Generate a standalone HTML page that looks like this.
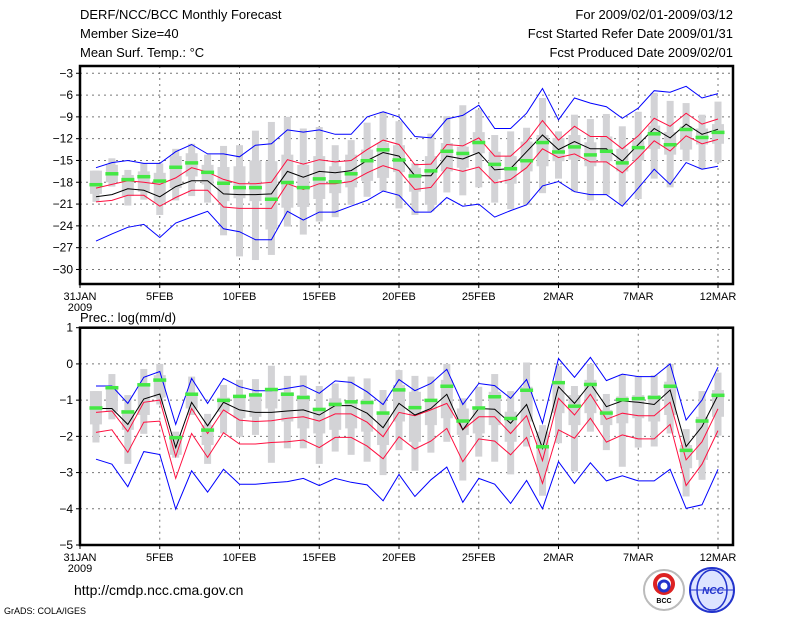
<!DOCTYPE html>
<html><head><meta charset="utf-8"><style>
body{margin:0;background:#fff;}
svg{display:block;font-family:"Liberation Sans",sans-serif;}
</style></head><body>
<svg id="chart" width="800" height="618" viewBox="0 0 800 618" xmlns="http://www.w3.org/2000/svg">
<rect width="800" height="618" fill="#fff"/>
<g font-size="13" fill="#000">
<text x="80" y="19">DERF/NCC/BCC Monthly Forecast</text>
<text x="80" y="38">Member Size=40</text>
<text x="80" y="57">Mean Surf. Temp.: °C</text>
<text x="733" y="19" text-anchor="end">For 2009/02/01-2009/03/12</text>
<text x="733" y="38" text-anchor="end">Fcst Started Refer Date 2009/01/31</text>
<text x="733" y="57" text-anchor="end">Fcst Produced Date 2009/02/01</text>
<text x="80" y="322">Prec.: log(mm/d)</text>
<text x="74" y="595" font-size="14">http://cmdp.ncc.cma.gov.cn</text>
<text x="4" y="614" font-size="9">GrADS: COLA/IGES</text>
</g>
<g>
<circle cx="664" cy="590" r="20" fill="#fff" stroke="#bbb" stroke-width="2"/>
<circle cx="664" cy="584" r="9" fill="none" stroke="#d22" stroke-width="4"/>
<circle cx="664" cy="586" r="5" fill="none" stroke="#23c" stroke-width="3"/>
<text x="664" y="603" font-size="7" text-anchor="middle" font-weight="bold">BCC</text>
</g>
<g>
<circle cx="712" cy="590" r="22" fill="#dde4ff" stroke="#23c" stroke-width="2"/>
<ellipse cx="712" cy="590" rx="15" ry="20" fill="none" stroke="#23c" stroke-width="1.5"/>
<line x1="690" y1="590" x2="734" y2="590" stroke="#23c"/>
<text x="713" y="594" font-size="10" text-anchor="middle" fill="#23c" font-weight="bold" font-style="italic">NCC</text>
</g>
<g id="top"></g>
<g id="bot"></g>
</svg>
<script>
// ===== Temperature panel data (days 1..40 = Feb 1 .. Mar 12) =====
const tMax = [-16.0,-15.3,-15.0,-15.4,-15.4,-13.8,-12.8,-14.1,-14.1,-14.5,-12.9,-12.7,-10.8,-11.1,-10.8,-11.4,-11.4,-9.0,-8.3,-9.0,-11.7,-11.9,-9.3,-8.8,-7.4,-10.6,-10.6,-8.5,-5.1,-9.4,-6.4,-7.1,-7.6,-9.2,-7.8,-5.4,-5.6,-4.8,-6.4,-5.8];
const tMin = [-26.1,-25.1,-24.2,-23.8,-25.6,-23.6,-22.8,-22.0,-24.4,-24.8,-25.9,-25.9,-22.0,-23.2,-22.1,-22.1,-21.3,-20.5,-19.2,-19.8,-22.1,-22.1,-20.1,-21.3,-21.0,-22.8,-21.9,-21.1,-18.5,-17.9,-19.3,-19.7,-19.7,-21.3,-18.8,-16.2,-18.3,-15.3,-16.2,-15.8];
const tHi = [-18.8,-18.3,-17.8,-18.0,-18.3,-17.4,-16.0,-16.6,-17.6,-18.2,-18.2,-18.0,-14.9,-15.5,-14.9,-15.2,-15.0,-13.5,-12.2,-12.8,-15.6,-15.5,-12.8,-13.0,-11.9,-14.4,-14.4,-12.4,-9.5,-12.2,-10.3,-11.7,-11.7,-13.4,-11.6,-9.2,-10.3,-8.5,-10.0,-9.3];
const tMean = [-20.0,-19.7,-18.9,-19.1,-20.0,-18.6,-17.8,-17.8,-19.6,-19.7,-19.7,-19.6,-16.5,-17.3,-16.5,-16.7,-16.4,-15.0,-13.9,-14.4,-17.1,-17.1,-14.4,-14.8,-13.9,-16.3,-16.1,-13.8,-11.5,-13.5,-12.4,-13.4,-13.4,-15.1,-12.8,-10.6,-11.9,-10.0,-11.4,-10.7];
const tLo = [-20.7,-20.5,-19.8,-19.8,-21.3,-20.1,-19.1,-19.1,-21.4,-21.6,-21.6,-21.6,-18.2,-19.0,-18.2,-18.2,-17.9,-16.7,-15.7,-16.4,-19.0,-18.7,-16.0,-16.5,-15.9,-18.1,-17.6,-16.0,-13.4,-14.6,-14.1,-15.2,-15.2,-16.7,-14.6,-12.3,-13.7,-11.6,-12.7,-12.1];
const tObs = [-18.3,-16.8,-17.6,-17.2,-17.8,-15.9,-15.3,-16.6,-18.1,-18.7,-18.7,-20.3,-18.0,-18.7,-17.5,-17.9,-16.8,-15.0,-13.5,-14.9,-17.1,-16.4,-13.7,-14.0,-12.5,-15.5,-16.1,-15.0,-12.5,-13.8,-13.1,-14.2,-13.7,-15.3,-13.2,-11.3,-12.8,-10.7,-11.8,-11.1];
const tWhiskTop = [-16.4,-14.7,-16.3,-15.4,-15.4,-13.4,-12.7,-14.2,-13.0,-12.9,-10.9,-9.7,-9.0,-10.6,-10.4,-12.9,-12.2,-9.8,-8.3,-9.6,-15.4,-11.3,-8.9,-7.4,-8.0,-11.5,-11.0,-10.5,-6.4,-11.0,-8.7,-9.3,-8.6,-10.3,-8.3,-5.7,-6.8,-7.1,-8.7,-6.9];
const tWhiskBot = [-20.7,-18.6,-21.2,-20.4,-22.5,-20.5,-19.9,-20.8,-25.3,-28.2,-28.7,-28.0,-24.1,-25.2,-23.4,-22.8,-21.1,-20.0,-19.2,-21.6,-22.5,-22.0,-19.4,-19.8,-18.7,-20.8,-21.7,-21.1,-19.5,-17.5,-19.3,-20.5,-19.7,-21.1,-20.3,-17.5,-18.7,-15.1,-16.2,-15.3];
const tBoxTop = [-16.4,-15.6,-17.0,-16.5,-16.7,-14.4,-14.0,-15.6,-15.9,-15.8,-15.0,-15.1,-14.2,-15.6,-14.4,-15.8,-14.2,-13.5,-12.6,-12.9,-16.0,-14.4,-12.6,-13.1,-11.1,-13.8,-14.4,-12.4,-11.5,-11.9,-11.5,-12.5,-11.7,-13.4,-12.3,-10.2,-11.1,-10.3,-10.6,-10.0];
const tBoxBot = [-19.6,-18.0,-19.9,-19.3,-20.8,-18.8,-17.2,-18.3,-20.6,-20.2,-20.6,-24.5,-21.5,-21.4,-20.3,-19.5,-18.7,-17.8,-17.4,-16.6,-19.3,-21.1,-16.5,-16.0,-14.0,-17.6,-18.2,-16.5,-15.8,-15.1,-14.9,-15.8,-15.1,-16.5,-15.0,-13.4,-14.2,-13.5,-12.8,-12.7];
const tTicks = [-3,-6,-9,-12,-15,-18,-21,-24,-27,-30];

// ===== Precipitation panel data =====
const pMax = [-0.61,-0.61,-1.09,-0.37,-0.21,-1.67,-0.40,-1.09,-0.40,-0.63,-0.74,-0.74,-0.67,-0.60,-0.81,-0.47,-0.51,-0.77,-1.12,-0.43,-0.74,-0.54,-0.15,-1.12,-0.54,-0.60,-0.95,-0.43,-1.64,0.15,-0.37,0.18,-0.46,-0.28,-0.35,-0.35,0.0,-1.55,-1.00,-0.09];
const pMin = [-2.63,-2.77,-3.39,-2.42,-2.50,-4.01,-2.95,-3.54,-2.91,-3.32,-3.32,-3.28,-3.25,-3.16,-3.36,-3.16,-3.27,-3.34,-3.78,-3.05,-3.66,-3.20,-2.85,-3.82,-3.16,-3.32,-3.85,-3.22,-4.00,-2.70,-3.30,-2.73,-3.23,-3.09,-3.23,-3.23,-2.91,-3.99,-3.89,-2.91];
const pHi = [-1.34,-1.30,-1.87,-1.06,-1.00,-2.56,-1.23,-1.92,-1.27,-1.55,-1.59,-1.57,-1.50,-1.46,-1.58,-1.38,-1.38,-1.61,-2.01,-1.34,-1.43,-1.27,-1.09,-1.82,-1.46,-1.46,-1.92,-1.43,-2.67,-0.95,-1.41,-0.84,-1.53,-1.36,-1.43,-1.43,-1.06,-2.65,-2.15,-1.24];
const pMean = [-1.23,-1.23,-1.67,-0.97,-0.83,-2.31,-1.06,-1.71,-1.06,-1.27,-1.34,-1.34,-1.30,-1.27,-1.41,-1.15,-1.15,-1.36,-1.76,-1.09,-1.41,-1.23,-0.84,-1.82,-1.23,-1.25,-1.64,-1.12,-2.33,-0.63,-1.09,-0.54,-1.18,-1.02,-1.06,-1.12,-0.72,-2.28,-1.73,-0.86];
const pLo = [-1.89,-1.82,-2.44,-1.61,-1.58,-3.16,-1.92,-2.58,-1.90,-2.21,-2.21,-2.17,-2.15,-2.10,-2.31,-2.03,-2.03,-2.27,-2.62,-2.01,-2.35,-2.13,-1.78,-2.70,-2.07,-2.13,-2.51,-2.03,-3.30,-1.82,-2.05,-1.50,-2.16,-1.96,-2.07,-2.07,-1.67,-3.36,-2.77,-1.84];
const pObs = [-1.21,-0.65,-1.32,-0.57,-0.44,-2.03,-0.83,-1.82,-1.00,-0.89,-0.85,-0.70,-0.83,-0.92,-1.25,-1.11,-1.04,-1.06,-1.35,-0.71,-1.20,-1.00,-0.61,-1.57,-1.21,-0.90,-1.50,-0.72,-2.28,-0.51,-1.16,-0.56,-1.35,-0.98,-0.95,-0.92,-0.61,-2.38,-1.57,-0.86];
const pWhiskTop = [-0.75,-0.28,-0.86,-0.14,0.0,-1.87,-0.35,-1.38,-0.58,-0.44,-0.42,-0.05,-0.33,-0.32,-0.61,-0.54,-0.35,-0.40,-0.72,-0.17,-0.33,-0.35,0.0,-0.95,-0.63,-0.28,-0.75,0.04,-1.69,-0.06,-0.61,0.0,-0.83,-0.29,-0.33,-0.31,0.0,-1.80,-0.75,-0.24];
const pWhiskBot = [-2.17,-1.53,-2.76,-1.93,-1.12,-2.59,-1.41,-2.76,-1.92,-2.01,-1.96,-2.73,-2.33,-2.33,-2.76,-2.42,-2.51,-2.70,-3.07,-2.38,-2.95,-2.45,-2.15,-3.22,-2.56,-2.70,-3.05,-2.28,-3.64,-2.19,-2.97,-1.87,-2.38,-2.84,-2.31,-2.28,-1.92,-3.66,-3.20,-1.98];
const pBoxTop = [-0.75,-0.63,-1.27,-0.54,-0.31,-1.96,-0.81,-1.69,-0.93,-0.86,-0.86,-0.72,-0.78,-0.86,-1.23,-0.95,-1.04,-0.99,-1.32,-0.58,-0.77,-1.00,-0.44,-1.23,-1.18,-0.77,-1.32,-0.63,-1.87,-0.54,-0.86,-0.44,-1.27,-0.90,-0.86,-0.86,-0.49,-2.24,-1.46,-0.72];
const pBoxBot = [-1.67,-1.32,-1.82,-1.41,-0.93,-2.51,-1.23,-2.24,-1.32,-1.50,-1.46,-1.23,-1.59,-1.78,-1.92,-1.82,-1.78,-1.87,-2.24,-1.59,-2.15,-1.69,-1.50,-1.96,-1.92,-1.69,-2.15,-1.59,-2.97,-1.36,-1.69,-1.36,-1.69,-1.64,-1.50,-1.59,-1.41,-2.88,-2.65,-1.46];
const pTicks = [1,0,-1,-2,-3,-4,-5];

const dateLabels = ["31JAN","5FEB","10FEB","15FEB","20FEB","25FEB","2MAR","7MAR","12MAR"];
const dateDays = [0,5,10,15,20,25,30,35,40];

const NS = "http://www.w3.org/2000/svg";
const X0 = 80, X1 = 733, DAY = 15.95;
function xOf(d){ return X0 + d*DAY; }
function mk(parent, tag, attrs){
  const e = document.createElementNS(NS, tag);
  for (const k in attrs) e.setAttribute(k, attrs[k]);
  parent.appendChild(e);
  return e;
}

function drawPanel(g, cfg){
  const yOf = v => cfg.top + (cfg.vmax - v) / (cfg.vmax - cfg.vmin) * (cfg.bot - cfg.top);
  // grid
  cfg.ticks.forEach(t => {
    const y = yOf(t);
    if (t !== cfg.vmax && t !== cfg.vmin) {
      const l = mk(g, "line", {x1:X0, x2:X1, y1:y, y2:y, stroke:"#777", "stroke-width":1, "stroke-dasharray":"2,4"});
      
      
    }
    const tk = mk(g, "line", {x1:X0-4, x2:X0, y1:y, y2:y, stroke:"#000", "stroke-width":1});
    
    
    const tx = mk(g, "text", {x:X0-7, y:y+4, "text-anchor":"end", "font-size":12});
    tx.textContent = String(t).replace("-", "−");
    
    
  });
  dateDays.forEach((d, i) => {
    const x = xOf(d);
    if (d > 0) {
      const l = mk(g, "line", {x1:x, x2:x, y1:cfg.top, y2:cfg.bot, stroke:"#777", "stroke-width":1, "stroke-dasharray":"2,4"});
      
      
    }
    const tk = mk(g, "line", {x1:x, x2:x, y1:cfg.bot, y2:cfg.bot+4, stroke:"#000"});
    
    
    const tx = mk(g, "text", {x:x, y:cfg.bot+16, "text-anchor":"middle", "font-size":11});
    tx.textContent = dateLabels[i];
    
    
  });
  const yr = mk(g, "text", {x:X0, y:cfg.bot+27, "text-anchor":"middle", "font-size":11});
  yr.textContent = "2009";
  
  

  // boxes
  for (let i = 0; i < 40; i++) {
    const x = xOf(i+1);
    const w = mk(g, "rect", {x:x-3.5, width:7, y:yOf(cfg.wt[i]), height:Math.max(1, yOf(cfg.wb[i]) - yOf(cfg.wt[i])), fill:"#d3d3d6"});
    
    
    const b = mk(g, "rect", {x:x-6, width:12, y:yOf(cfg.bt[i]), height:Math.max(1, yOf(cfg.bb[i]) - yOf(cfg.bt[i])), fill:"#d3d3d6"});
    
    
  }
  // lines
  const series = [[cfg.mx,"#0000ff","max-line"],[cfg.mn,"#0000ff","min-line"],[cfg.hi,"#ff1040","upper-spread-line"],[cfg.lo,"#ff1040","lower-spread-line"],[cfg.mean,"#000","ensemble-mean-line"]];
  series.forEach(s => {
    const pts = s[0].map((v, i) => xOf(i+1).toFixed(1) + "," + yOf(v).toFixed(1)).join(" ");
    const p = mk(g, "polyline", {points:pts, fill:"none", stroke:s[1], "stroke-width":1});
    
    
  });
  // observations
  for (let i = 0; i < 40; i++) {
    const o = mk(g, "rect", {x:xOf(i+1)-6.5, width:13, y:yOf(cfg.obs[i])-1.5, height:3.5, fill:"#44e844"});
    
    
  }
  // frame
  const f = mk(g, "rect", {x:X0, y:cfg.top, width:X1-X0, height:cfg.bot-cfg.top, fill:"none", stroke:"#000", "stroke-width":2.5});
  
  
}

drawPanel(document.getElementById("top"), {top:66, bot:284, vmax:-2, vmin:-32, ticks:tTicks,
  mx:tMax, mn:tMin, hi:tHi, lo:tLo, mean:tMean, obs:tObs, wt:tWhiskTop, wb:tWhiskBot, bt:tBoxTop, bb:tBoxBot});
drawPanel(document.getElementById("bot"), {top:327.7, bot:545, vmax:1, vmin:-5, ticks:pTicks,
  mx:pMax, mn:pMin, hi:pHi, lo:pLo, mean:pMean, obs:pObs, wt:pWhiskTop, wb:pWhiskBot, bt:pBoxTop, bb:pBoxBot});
</script>
</body></html>
